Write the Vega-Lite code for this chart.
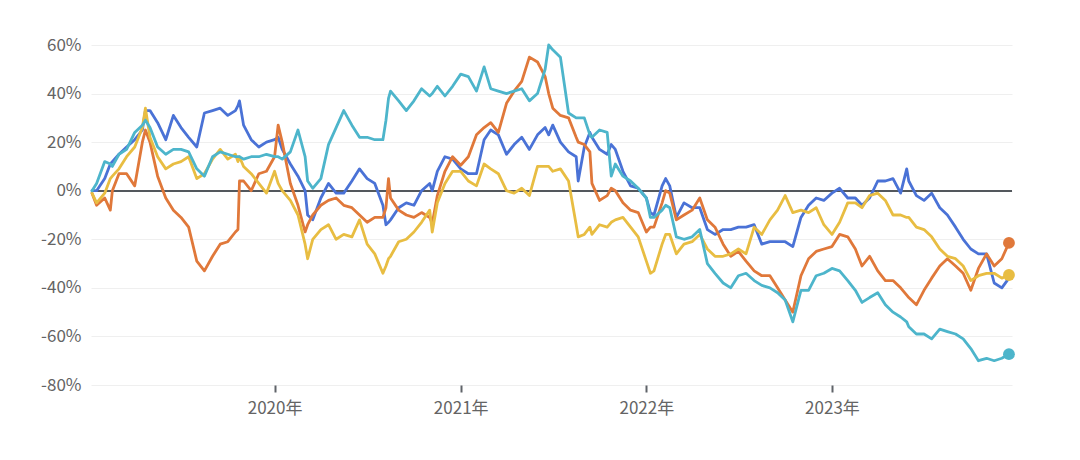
{
  "$schema": "https://vega.github.io/schema/vega-lite/v6.json",
  "width": 921,
  "height": 340,
  "autosize": {"type": "none"},
  "padding": {"left": 91, "top": 45, "right": 68, "bottom": 75},
  "background": "white",
  "config": {"view": {"stroke": null}, "font": "Noto Sans CJK SC"},
  "data": {"values": [
    {"d":"2019/01/07","A":0,"B":-1,"C":-1,"D":0},
    {"d":"2019/01/16","A":0,"B":-6,"C":-5,"D":3},
    {"d":"2019/02/01","A":5,"B":-3,"C":-1,"D":12},
    {"d":"2019/02/12","A":11,"B":-8,"C":5,"D":11},
    {"d":"2019/02/16","A":12,"B":0,"C":6,"D":10},
    {"d":"2019/03/01","A":15,"B":7,"C":9,"D":15},
    {"d":"2019/03/16","A":18,"B":7,"C":14,"D":17},
    {"d":"2019/04/01","A":21,"B":2,"C":18,"D":24},
    {"d":"2019/04/16","A":25,"B":20,"C":26,"D":27},
    {"d":"2019/04/22","A":33,"B":25,"C":34,"D":29},
    {"d":"2019/05/01","A":33,"B":20,"C":22,"D":26},
    {"d":"2019/05/16","A":28,"B":6,"C":14,"D":18},
    {"d":"2019/06/01","A":21,"B":-3,"C":9,"D":15},
    {"d":"2019/06/16","A":31,"B":-8,"C":11,"D":17},
    {"d":"2019/07/01","A":26,"B":-11,"C":12,"D":17},
    {"d":"2019/07/16","A":22,"B":-15,"C":14,"D":16},
    {"d":"2019/08/01","A":18,"B":-29,"C":5,"D":9},
    {"d":"2019/08/16","A":32,"B":-33,"C":7,"D":6},
    {"d":"2019/09/01","A":33,"B":-27,"C":13,"D":14},
    {"d":"2019/09/16","A":34,"B":-22,"C":17,"D":16},
    {"d":"2019/10/01","A":31,"B":-21,"C":13,"D":15},
    {"d":"2019/10/16","A":33,"B":-17,"C":15,"D":14},
    {"d":"2019/10/21","A":35,"B":-16,"C":12,"D":14},
    {"d":"2019/10/24","A":37,"B":4,"C":14,"D":14},
    {"d":"2019/11/01","A":27,"B":4,"C":10,"D":13},
    {"d":"2019/11/16","A":21,"B":0,"C":7,"D":14},
    {"d":"2019/12/01","A":18,"B":7,"C":3,"D":14},
    {"d":"2019/12/16","A":20,"B":8,"C":-1,"D":15},
    {"d":"2020/01/01","A":21,"B":14,"C":8,"D":14},
    {"d":"2020/01/08","A":22,"B":27,"C":3,"D":14},
    {"d":"2020/01/16","A":17,"B":20,"C":0,"D":13},
    {"d":"2020/02/01","A":11,"B":3,"C":-4,"D":16},
    {"d":"2020/02/16","A":6,"B":-6,"C":-10,"D":25},
    {"d":"2020/03/01","A":0,"B":-17,"C":-22,"D":14},
    {"d":"2020/03/06","A":-10,"B":-14,"C":-28,"D":4},
    {"d":"2020/03/16","A":-12,"B":-10,"C":-20,"D":1},
    {"d":"2020/04/01","A":-3,"B":-6,"C":-16,"D":5},
    {"d":"2020/04/16","A":3,"B":-4,"C":-14,"D":19},
    {"d":"2020/05/01","A":-1,"B":-3,"C":-20,"D":26},
    {"d":"2020/05/16","A":-1,"B":-6,"C":-18,"D":33},
    {"d":"2020/06/01","A":4,"B":-7,"C":-19,"D":27},
    {"d":"2020/06/16","A":9,"B":-10,"C":-12,"D":22},
    {"d":"2020/07/01","A":5,"B":-13,"C":-22,"D":22},
    {"d":"2020/07/16","A":3,"B":-11,"C":-26,"D":21},
    {"d":"2020/08/01","A":-6,"B":-11,"C":-34,"D":21},
    {"d":"2020/08/07","A":-14,"B":-7,"C":-31,"D":29},
    {"d":"2020/08/12","A":-13,"B":5,"C":-28,"D":38},
    {"d":"2020/08/16","A":-12,"B":-3,"C":-27,"D":41},
    {"d":"2020/09/01","A":-7,"B":-8,"C":-21,"D":37},
    {"d":"2020/09/16","A":-5,"B":-10,"C":-20,"D":33},
    {"d":"2020/10/01","A":-6,"B":-11,"C":-17,"D":37},
    {"d":"2020/10/16","A":0,"B":-9,"C":-13,"D":42},
    {"d":"2020/11/01","A":3,"B":-11,"C":-8,"D":39},
    {"d":"2020/11/06","A":0,"B":-13.5,"C":-17,"D":40},
    {"d":"2020/11/16","A":8,"B":-2,"C":-5,"D":43},
    {"d":"2020/12/01","A":14,"B":8,"C":3,"D":39},
    {"d":"2020/12/16","A":13,"B":14,"C":8,"D":43},
    {"d":"2021/01/01","A":9,"B":10.5,"C":8,"D":48},
    {"d":"2021/01/16","A":7,"B":14,"C":4,"D":47},
    {"d":"2021/02/01","A":7,"B":23,"C":2,"D":41},
    {"d":"2021/02/16","A":21,"B":26,"C":11,"D":51},
    {"d":"2021/03/01","A":25,"B":28,"C":9,"D":42},
    {"d":"2021/03/16","A":23,"B":24,"C":7,"D":41},
    {"d":"2021/04/01","A":15,"B":36,"C":0,"D":40},
    {"d":"2021/04/16","A":19,"B":41,"C":-1,"D":41},
    {"d":"2021/05/01","A":22,"B":45,"C":1,"D":42},
    {"d":"2021/05/16","A":17,"B":55,"C":-2,"D":37},
    {"d":"2021/06/01","A":23,"B":53,"C":10,"D":40},
    {"d":"2021/06/16","A":26,"B":47,"C":10,"D":50},
    {"d":"2021/06/23","A":23,"B":40,"C":10,"D":60},
    {"d":"2021/07/01","A":27,"B":34,"C":8,"D":58},
    {"d":"2021/07/16","A":20,"B":31,"C":9,"D":55},
    {"d":"2021/08/01","A":16,"B":30,"C":4,"D":32},
    {"d":"2021/08/16","A":14,"B":22,"C":-14,"D":30},
    {"d":"2021/08/20","A":4,"B":20,"C":-19,"D":30},
    {"d":"2021/09/01","A":18,"B":19,"C":-18,"D":30},
    {"d":"2021/09/12","A":24,"B":16,"C":-15,"D":23},
    {"d":"2021/09/16","A":22,"B":3,"C":-18,"D":22},
    {"d":"2021/10/01","A":17,"B":-4,"C":-14,"D":25},
    {"d":"2021/10/16","A":15,"B":-2,"C":-15,"D":24},
    {"d":"2021/10/24","A":19,"B":1,"C":-13,"D":6},
    {"d":"2021/11/01","A":17,"B":0,"C":-12,"D":11},
    {"d":"2021/11/16","A":8,"B":-5,"C":-11,"D":6},
    {"d":"2021/12/01","A":2,"B":-8,"C":-15,"D":4},
    {"d":"2021/12/16","A":1,"B":-9,"C":-19,"D":1},
    {"d":"2022/01/01","A":-3,"B":-17,"C":-29,"D":-3},
    {"d":"2022/01/09","A":-9,"B":-15,"C":-34,"D":-11},
    {"d":"2022/01/16","A":-10,"B":-15,"C":-33,"D":-11},
    {"d":"2022/02/01","A":2,"B":-5,"C":-22,"D":-8},
    {"d":"2022/02/08","A":5,"B":0,"C":-18,"D":-6},
    {"d":"2022/02/16","A":2,"B":-1,"C":-18,"D":-7},
    {"d":"2022/03/01","A":-11,"B":-12,"C":-26,"D":-19},
    {"d":"2022/03/16","A":-5,"B":-10,"C":-22,"D":-20},
    {"d":"2022/04/01","A":-7,"B":-8,"C":-21,"D":-19},
    {"d":"2022/04/16","A":-7,"B":-3,"C":-18,"D":-16},
    {"d":"2022/05/01","A":-16,"B":-12,"C":-24,"D":-30},
    {"d":"2022/05/16","A":-18,"B":-15,"C":-27,"D":-34},
    {"d":"2022/06/01","A":-16,"B":-22,"C":-27,"D":-38},
    {"d":"2022/06/16","A":-16,"B":-27,"C":-26,"D":-40},
    {"d":"2022/07/01","A":-15,"B":-25,"C":-24,"D":-35},
    {"d":"2022/07/16","A":-15,"B":-29,"C":-26,"D":-34},
    {"d":"2022/08/01","A":-14,"B":-33,"C":-15,"D":-37},
    {"d":"2022/08/16","A":-22,"B":-35,"C":-18,"D":-39},
    {"d":"2022/09/01","A":-21,"B":-35,"C":-12,"D":-40},
    {"d":"2022/09/16","A":-21,"B":-40,"C":-8,"D":-42},
    {"d":"2022/10/01","A":-21,"B":-45,"C":-2,"D":-45},
    {"d":"2022/10/16","A":-23,"B":-50,"C":-9,"D":-54},
    {"d":"2022/11/01","A":-11,"B":-35,"C":-8,"D":-41},
    {"d":"2022/11/16","A":-6,"B":-28,"C":-9,"D":-41},
    {"d":"2022/12/01","A":-3,"B":-25,"C":-7,"D":-35},
    {"d":"2022/12/16","A":-4,"B":-24,"C":-14,"D":-34},
    {"d":"2023/01/01","A":-1,"B":-23,"C":-18,"D":-32},
    {"d":"2023/01/16","A":1,"B":-18,"C":-13,"D":-33},
    {"d":"2023/02/01","A":-3,"B":-19,"C":-5,"D":-37},
    {"d":"2023/02/16","A":-3,"B":-24,"C":-5,"D":-41},
    {"d":"2023/03/01","A":-6,"B":-31,"C":-7,"D":-46},
    {"d":"2023/03/16","A":-3,"B":-27,"C":-2,"D":-44},
    {"d":"2023/04/01","A":4,"B":-33,"C":-1,"D":-42},
    {"d":"2023/04/16","A":4,"B":-37,"C":-4,"D":-47},
    {"d":"2023/05/01","A":5,"B":-37,"C":-10,"D":-50},
    {"d":"2023/05/16","A":-1,"B":-40,"C":-10,"D":-52},
    {"d":"2023/05/28","A":9,"B":-43,"C":-11,"D":-54},
    {"d":"2023/06/01","A":4,"B":-44,"C":-11,"D":-56},
    {"d":"2023/06/16","A":-2,"B":-47,"C":-15,"D":-59},
    {"d":"2023/07/01","A":-4,"B":-41,"C":-16,"D":-59},
    {"d":"2023/07/16","A":-1,"B":-36,"C":-19,"D":-61},
    {"d":"2023/08/01","A":-7,"B":-31,"C":-24,"D":-57},
    {"d":"2023/08/16","A":-10,"B":-28,"C":-27,"D":-58},
    {"d":"2023/09/01","A":-15,"B":-31,"C":-28,"D":-59},
    {"d":"2023/09/16","A":-20,"B":-34,"C":-31,"D":-61},
    {"d":"2023/10/01","A":-24,"B":-41,"C":-37,"D":-65},
    {"d":"2023/10/16","A":-26,"B":-32,"C":-35,"D":-70},
    {"d":"2023/11/01","A":-26,"B":-26,"C":-34,"D":-69},
    {"d":"2023/11/16","A":-38,"B":-31,"C":-34,"D":-70},
    {"d":"2023/12/01","A":-40,"B":-28,"C":-36,"D":-69},
    {"d":"2023/12/15","A":-36,"B":-21.5,"C":-34.7,"D":-67.3}
  ]},
  "transform": [{"fold": ["A", "B", "C", "D"], "as": ["series", "value"]}],
  "encoding": {
    "x": {
      "field": "d", "type": "temporal",
      "scale": {"domain": [{"year": 2019, "month": 1, "date": 5}, {"year": 2023, "month": 12, "date": 21}]},
      "axis": {
        "title": null, "format": "%Y年", "tickCount": {"interval": "year", "step": 1},
        "grid": false, "domain": false, "ticks": true, "tickSize": 7, "tickWidth": 2,
        "tickColor": "#5f6368", "labelFontSize": 17, "labelColor": "#646464",
        "labelPadding": 8, "labelFlush": false, "labelOverlap": false
      }
    },
    "y": {
      "field": "value", "type": "quantitative",
      "scale": {"domain": [-80, 60], "nice": false, "zero": false},
      "axis": {
        "title": null, "values": [-80, -60, -40, -20, 0, 20, 40, 60],
        "labelExpr": "datum.value + '%'", "domain": false, "ticks": false,
        "labelFontSize": 17, "labelColor": "#646464", "labelPadding": 10,
        "gridColor": "#efefef", "gridWidth": 1
      }
    },
    "color": {
      "field": "series", "type": "nominal", "legend": null,
      "scale": {"domain": ["A", "B", "C", "D"], "range": ["#4a72d6", "#e0783a", "#e8bd42", "#4db5cb"]}
    }
  },
  "layer": [
    {
      "mark": {"type": "rule", "color": "#55595e", "strokeWidth": 1},
      "encoding": {"y": {"datum": 0, "type": "quantitative"}, "x": null, "color": null}
    },
    {
      "mark": {"type": "line", "strokeWidth": 2.8, "strokeJoin": "round", "strokeCap": "round"}
    },
    {
      "transform": [
        {"filter": {"field": "d", "gte": {"year": 2023, "month": 12, "date": 10}}},
        {"filter": {"field": "series", "oneOf": ["B", "C", "D"]}}
      ],
      "mark": {"type": "point", "filled": true, "size": 140, "opacity": 1}
    }
  ]
}
